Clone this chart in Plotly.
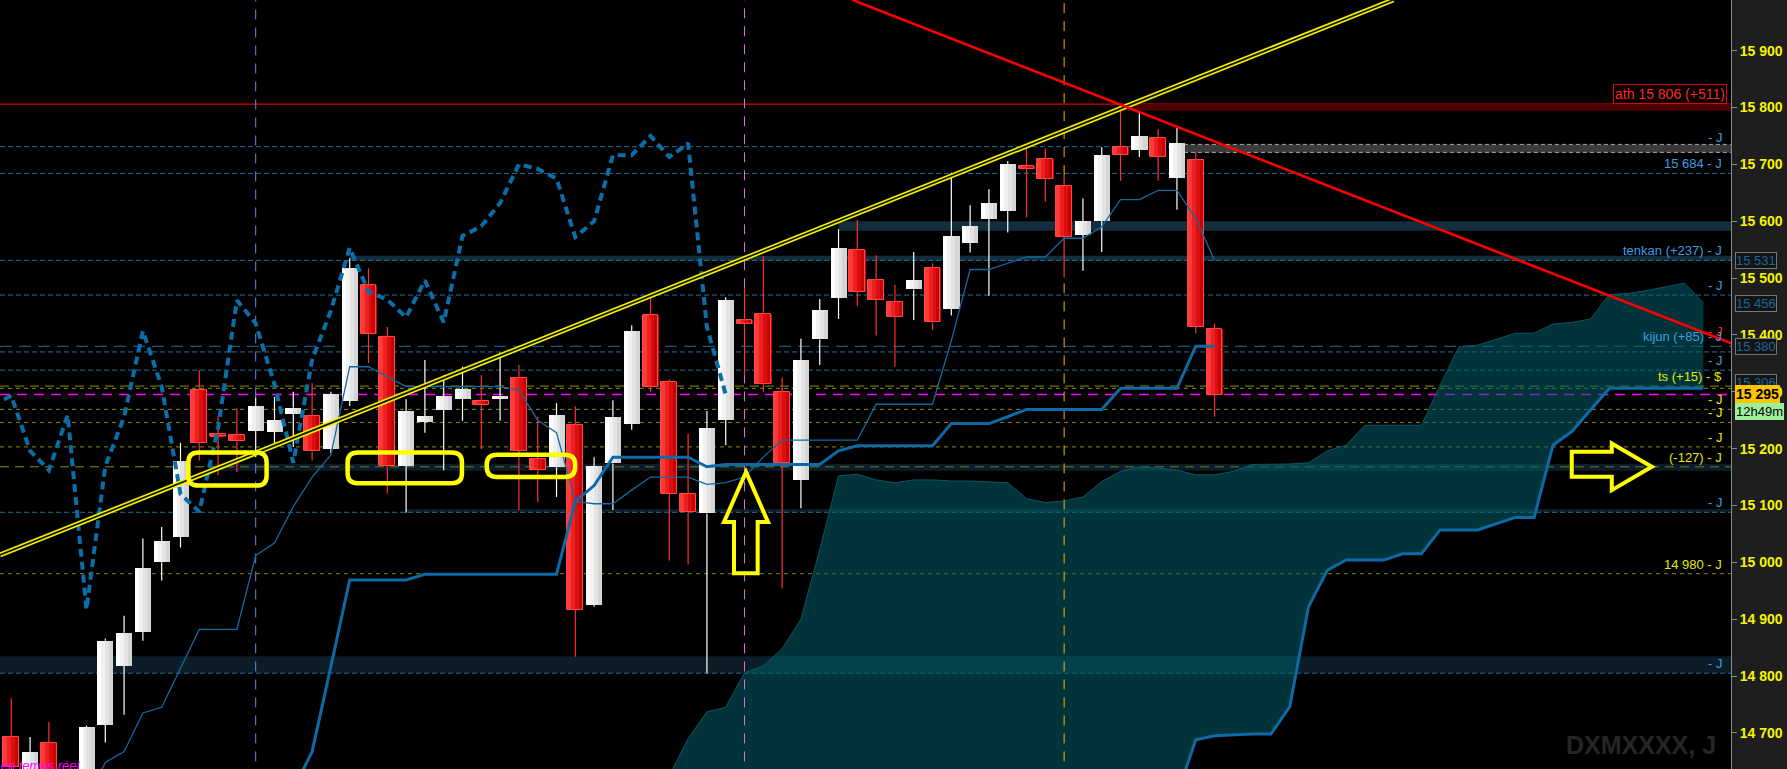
import plotly.graph_objects as go

# Daily candles, oldest first (session index 0 .. 64)
opens = [
    14693, 14630, 14683, 14620, 14590, 14714, 14818, 14878, 15000, 15045,
    15303, 15225, 15224, 15231, 15230, 15261, 15257, 15200, 15284, 15488,
    15396, 15169, 15247, 15268, 15288, 15284, 15288, 15324, 15182, 15167,
    15241, 14925, 15174, 15244, 15435, 15317, 15121, 15086, 15251, 15426,
    15436, 15299, 15145, 15392, 15465, 15550, 15496, 15457, 15480, 15517,
    15446, 15562, 15604, 15618, 15697, 15710, 15661, 15576, 15601, 15730,
    15726, 15747, 15676, 15707, 15411,
]
highs = [
    14761, 14693, 14719, 14630, 14713, 14866, 14906, 15042, 15062, 15210,
    15338, 15257, 15271, 15290, 15291, 15300, 15315, 15300, 15535, 15517,
    15414, 15287, 15356, 15329, 15344, 15329, 15369, 15347, 15256, 15280,
    15274, 15185, 15285, 15417, 15467, 15322, 15226, 15266, 15466, 15482,
    15539, 15325, 15393, 15463, 15586, 15602, 15540, 15488, 15546, 15526,
    15685, 15628, 15656, 15706, 15730, 15728, 15681, 15640, 15730, 15801,
    15793, 15762, 15764, 15722, 15420,
]
lows = [
    14620, 14600, 14600, 14560, 14570, 14683, 14732, 14862, 14968, 15026,
    15179, 15153, 15159, 15185, 15203, 15203, 15179, 15192, 15275, 15350,
    15121, 15087, 15228, 15162, 15249, 15199, 15249, 15092, 15105, 15115,
    14834, 14922, 15092, 15233, 15300, 15003, 14996, 14805, 15206, 15330,
    15300, 14954, 15095, 15347, 15428, 15451, 15399, 15344, 15426, 15409,
    15434, 15545, 15469, 15580, 15607, 15634, 15501, 15513, 15546, 15671,
    15713, 15671, 15620, 15403, 15256,
]
closes = [
    14640, 14666, 14625, 14585, 14710, 14862, 14876, 14990, 15037, 15178,
    15210, 15222, 15213, 15275, 15250, 15272, 15195, 15296, 15517, 15401,
    15169, 15266, 15257, 15292, 15305, 15276, 15293, 15196, 15162, 15259,
    14917, 15169, 15256, 15407, 15309, 15120, 15089, 15236, 15461, 15420,
    15313, 15175, 15356, 15443, 15553, 15476, 15462, 15431, 15496, 15422,
    15574, 15591, 15632, 15700, 15692, 15675, 15572, 15600, 15716, 15716,
    15750, 15713, 15737, 15414, 15295,
]

# Ichimoku: tenkan (from session 4), kijun (from session 15)
tenkan_x = list(range(4, 65))
tenkan = [
    14580, 14648, 14667, 14735, 14745, 14813, 14882, 14882, 14882, 15012,
    15034, 15098, 15150, 15189, 15344, 15344, 15327, 15309, 15309, 15309,
    15309, 15309, 15309, 15303, 15250, 15228, 15107, 15103, 15103, 15127,
    15150, 15150, 15150, 15137, 15140, 15150, 15185, 15215, 15215, 15215,
    15215, 15215, 15278, 15278, 15278, 15278, 15390, 15515, 15515, 15526,
    15537, 15537, 15570, 15570, 15590, 15638, 15638, 15654, 15654, 15605,
    15531,
]
kijun_x = list(range(15, 65))
kijun = [
    14600, 14667, 14817, 14969, 14969, 14969, 14969, 14979, 14979, 14979,
    14979, 14979, 14979, 14979, 14979, 15107, 15135, 15185, 15185, 15185,
    15185, 15185, 15168, 15172, 15172, 15172, 15172, 15172, 15172, 15196,
    15205, 15205, 15205, 15205, 15205, 15244, 15244, 15244, 15256, 15269,
    15269, 15269, 15269, 15269, 15306, 15306, 15306, 15306, 15380, 15380,
]
# Kumo (senkou spans), sessions 34 .. 90 (projected 26 ahead)
cloud_x = list(range(34, 91))
span_a = [
    14560, 14625, 14690, 14737, 14745, 14806, 14818, 14848, 14900, 15022,
    15152, 15155, 15145, 15140, 15145, 15145, 15143, 15143, 15142, 15140,
    15112, 15105, 15108, 15115, 15142, 15160, 15168, 15166, 15162, 15154,
    15154, 15160, 15172, 15172, 15173, 15175, 15196, 15206, 15241, 15241,
    15241, 15241, 15312, 15379, 15382, 15392, 15403, 15403, 15419, 15422,
    15428, 15471, 15473, 15478, 15484, 15491, 15456,
]
span_b = [
    14560, 14560, 14560, 14560, 14560, 14560, 14560, 14560, 14560, 14560,
    14560, 14560, 14560, 14560, 14560, 14560, 14560, 14560, 14560, 14560,
    14560, 14560, 14560, 14560, 14560, 14560, 14560, 14560, 14590, 14688,
    14695, 14697, 14698, 14698, 14746, 14922, 14986, 15004, 15004, 15004,
    15015, 15015, 15057, 15057, 15057, 15068, 15079, 15079, 15206, 15230,
    15268, 15306, 15306, 15306, 15306, 15306, 15306,
]
CHIKOU_LAG = 26

# Hand-drawn trendlines: (session index, price) anchor pairs
yellow_trend_x = [-0.6, 73.5]
yellow_trend_y = [15013, 15989]
red_trend_x = [44.75, 91.5]
red_trend_y = [15989, 15385]

# Marked sessions (vertical dashed lines)
marked_sessions = [13, 39, 56]
marked_colors = ['#5b8fe8', '#e36be3', '#ffb000']

# Horizontal levels
ath_level = 15806
last_price = 15295
blue_levels = [15731, 15684, 15531, 15470, 15370, 15338, 15088, 14805]
olive_levels = [15306, 15269, 15246, 15203, 14980]
olive_long_levels = [15310, 15168]
kijun_level = 15380

# Right-hand level tags: (price, text, colour key)
level_tags = [
    (15731, '- J', 'blue'),
    (15684, '15 684 - J', 'blue'),
    (15531, 'tenkan (+237) - J', 'blue'),
    (15470, '- J', 'blue'),
    (15380, 'kijun (+85) - J', 'blue'),
    (15338, '- J', 'blue'),
    (15310, 'ts (+15) - $', 'yellow'),
    (15269, '- J', 'yellow'),
    (15246, '- J', 'yellow'),
    (15203, '- J', 'yellow'),
    (15168, '(-127) - J', 'yellow'),
    (15088, '- J', 'blue'),
    (14980, '14 980 - J', 'yellow'),
    (14805, '- J', 'blue'),
]
# Price boxes on the axis
axis_boxes = [(15531, '15 531'), (15456, '15 456'), (15380, '15 380'), (15316, '15 306')]
tick_vals = [14700, 14800, 14900, 15000, 15100, 15200, 15300, 15400, 15500, 15600, 15700, 15800, 15900]

X_RANGE = [-0.6, 91.47]
Y_RANGE = [14636.5, 15989]
PLOT_W = 1731.0

LABEL_COL = {'blue': '#3a9fe6', 'yellow': '#e8e800'}
BLUE_DASH = '#1f6f9f'
OLIVE = '#8c8c00'
ICHI = '#0e6aa6'

fig = go.Figure()

# ---- Kumo ----
fig.add_trace(go.Scatter(x=cloud_x, y=span_b, mode='lines',
                         line=dict(width=0, color='rgba(0,0,0,0)'), hoverinfo='skip'))
fig.add_trace(go.Scatter(x=cloud_x, y=span_a, mode='lines', fill='tonexty',
                         fillcolor='rgba(0,95,105,0.55)',
                         line=dict(width=1, color='#0c5566'), hoverinfo='skip'))

# ---- vertical session markers (interrupted where the candle sits) ----
for s, col in zip(marked_sessions, marked_colors):
    fig.add_trace(go.Scatter(
        x=[s, s, None, s, s],
        y=[Y_RANGE[0] - 50, lows[s], None, highs[s], Y_RANGE[1] + 50],
        mode='lines', line=dict(color=col, width=1, dash='10px,8px'), hoverinfo='skip'))

# ---- candles ----
idx = list(range(len(opens)))
up = [i for i in idx if closes[i] >= opens[i]]
dn = [i for i in idx if closes[i] < opens[i]]


def body(ids):
    base = [min(opens[i], closes[i]) for i in ids]
    h = [max(abs(closes[i] - opens[i]), 3.5) for i in ids]
    return base, h


BODY_W = 0.84
N_STRIPS = 4
white_shades = ['#ffffff', '#f1f1f1', '#e3e3e3', '#d5d5d5']
red_shades = ['#ff3838', '#ec2020', '#da0e0e', '#c60404']
for ids, shades in ((up, white_shades), (dn, red_shades)):
    base, h = body(ids)
    for k in range(N_STRIPS):
        fig.add_trace(go.Bar(
            x=ids, y=h, base=base,
            width=BODY_W / N_STRIPS + 0.015,
            offset=-BODY_W / 2 + k * BODY_W / N_STRIPS,
            marker=dict(color=shades[k], line=dict(width=0)), hoverinfo='skip'))
base, h = body(dn)
fig.add_trace(go.Bar(x=dn, y=h, base=base, width=BODY_W, offset=-BODY_W / 2,
                     marker=dict(color='rgba(0,0,0,0)', line=dict(color='#ff4848', width=1)),
                     hoverinfo='skip'))


def wicks(ids):
    xs, ys = [], []
    for i in ids:
        top, bot = max(opens[i], closes[i]), min(opens[i], closes[i])
        xs += [i, i, None, i, i, None]
        ys += [highs[i], top, None, bot, lows[i], None]
    return xs, ys


for ids, col in ((up, '#ffffff'), (dn, '#ff3030')):
    wx, wy = wicks(ids)
    fig.add_trace(go.Scatter(x=wx, y=wy, mode='lines', line=dict(color=col, width=1.2),
                             hoverinfo='skip'))

# ---- Ichimoku lines ----
fig.add_trace(go.Scatter(x=tenkan_x, y=tenkan, mode='lines',
                         line=dict(color='#1468a0', width=1.3), hoverinfo='skip'))
fig.add_trace(go.Scatter(x=kijun_x, y=kijun, mode='lines',
                         line=dict(color=ICHI, width=3), hoverinfo='skip'))
fig.add_trace(go.Scatter(x=cloud_x, y=span_b, mode='lines',
                         line=dict(color=ICHI, width=3), hoverinfo='skip'))
chikou_x = [i - CHIKOU_LAG for i in range(CHIKOU_LAG - 1, len(closes))]
chikou_y = closes[CHIKOU_LAG - 1:]
fig.add_trace(go.Scatter(x=chikou_x, y=chikou_y, mode='lines',
                         line=dict(color='#0a6ea8', width=4, dash='8px,5px'), hoverinfo='skip'))

# ---- trendlines (double yellow, single red) ----
fig.add_trace(go.Scatter(x=yellow_trend_x, y=yellow_trend_y, mode='lines',
                         line=dict(color='#f2f200', width=5), hoverinfo='skip'))
fig.add_trace(go.Scatter(x=yellow_trend_x, y=yellow_trend_y, mode='lines',
                         line=dict(color='#141400', width=1.7), hoverinfo='skip'))
fig.add_trace(go.Scatter(x=red_trend_x, y=red_trend_y, mode='lines',
                         line=dict(color='#ff0000', width=2.6), hoverinfo='skip'))

# ---- shapes: zones and levels ----
shapes = []


def zone(x0, y0, y1, color):
    shapes.append(dict(type='rect', xref='x', yref='y', x0=x0, x1=120, y0=y0, y1=y1,
                       fillcolor=color, line=dict(width=0), layer='below'))


def hline(y, color, dash, width=1, x0=None):
    if x0 is None:
        shapes.append(dict(type='line', xref='paper', yref='y', x0=0, x1=1, y0=y, y1=y,
                           line=dict(color=color, width=width, dash=dash), layer='below'))
    else:
        shapes.append(dict(type='line', xref='x', yref='y', x0=x0, x1=120, y0=y, y1=y,
                           line=dict(color=color, width=width, dash=dash), layer='below'))


zone(59, 15794, ath_level, '#4d0000')
zone(62, 15721, 15735, '#3a3a3a')
zone(44, 15583, 15600, 'rgba(40,100,130,0.45)')
zone(18, 15531, 15539, 'rgba(40,100,130,0.45)')
zone(10.6, 15161, 15173, 'rgba(40,90,120,0.32)')
zone(21, 15088, 15094, 'rgba(40,90,120,0.32)')
zone(-5, 14805, 14835, 'rgba(40,90,120,0.32)')

hline(15735, '#a8a8a8', '4px,3px', x0=62)
hline(15721, '#a8a8a8', '4px,3px', x0=62)
for lv in blue_levels:
    hline(lv, BLUE_DASH, '5px,3px')
hline(kijun_level, BLUE_DASH, '12px,7px')
for lv in olive_levels:
    hline(lv, OLIVE, '4px,4px')
for lv in olive_long_levels:
    hline(lv, OLIVE, '9px,6px')
hline(last_price, '#ff00ff', '10px,7px', width=1.5)
hline(ath_level, '#dd0000', 'solid', width=1.2)


# ---- annotation marks: rounded boxes and arrows ----
def rounded_box(x0, x1, y0, y1, rx=0.55, ry=17):
    return (f"M {x0 + rx},{y0} L {x1 - rx},{y0} Q {x1},{y0} {x1},{y0 + ry} "
            f"L {x1},{y1 - ry} Q {x1},{y1} {x1 - rx},{y1} L {x0 + rx},{y1} "
            f"Q {x0},{y1} {x0},{y1 - ry} L {x0},{y0 + ry} Q {x0},{y0} {x0 + rx},{y0} Z")


YEL = '#ffff00'
for bx0, bx1, by0, by1 in ((9.42, 13.58, 15135, 15193),
                           (17.89, 23.97, 15139, 15193),
                           (25.29, 29.99, 15150, 15189)):
    shapes.append(dict(type='path', xref='x', yref='y', path=rounded_box(bx0, bx1, by0, by1),
                       line=dict(color=YEL, width=4.5), fillcolor='rgba(0,0,0,0)', layer='above'))

up_arrow = ("M 39.08,15159 L 40.25,15071 L 39.70,15071 L 39.70,14981 "
            "L 38.44,14981 L 38.44,15071 L 37.91,15071 Z")
right_arrow = ("M 83.0,15194.5 L 85.13,15194.5 L 85.13,15209 L 87.26,15168 "
               "L 85.13,15127 L 85.13,15150.5 L 83.0,15150.5 Z")
for p in (up_arrow, right_arrow):
    shapes.append(dict(type='path', xref='x', yref='y', path=p,
                       line=dict(color=YEL, width=4), fillcolor='rgba(0,0,0,0)', layer='above'))

# ---- text ----
annotations = []
FONT = 'Liberation Sans'


def px(fx):
    return fx / PLOT_W


annotations.append(dict(xref='paper', yref='y', x=px(1724), y=15406, xanchor='right',
                        yanchor='middle', text='- J', showarrow=False,
                        font=dict(family=FONT, size=13, color='#ff2020')))
for lv, txt, ck in level_tags:
    annotations.append(dict(xref='paper', yref='y', x=px(1724), y=lv, xanchor='right',
                            yanchor='bottom', text=txt, showarrow=False,
                            font=dict(family=FONT, size=13, color=LABEL_COL[ck])))

annotations.append(dict(xref='paper', yref='y', x=px(1727), y=ath_level, xanchor='right',
                        yanchor='bottom', showarrow=False,
                        text=f'ath 15 806 (+{ath_level - last_price})',
                        font=dict(family=FONT, size=14, color='#ff2424'),
                        bgcolor='#000000', bordercolor='#e00000', borderwidth=1, borderpad=1))

for lv, txt in axis_boxes:
    annotations.append(dict(xref='paper', yref='y', x=px(1735), y=lv, xanchor='left',
                            yanchor='middle', text=txt, showarrow=False,
                            font=dict(family=FONT, size=13, color='#17679c'),
                            bgcolor='#141414', bordercolor='#767676', borderwidth=1, borderpad=0))
annotations.append(dict(xref='paper', yref='y', x=px(1735), y=15296, xanchor='left',
                        yanchor='middle', text='<b>15 295</b>', showarrow=False,
                        font=dict(family=FONT, size=14, color='#000000'),
                        bgcolor='#ffc400', bordercolor='#ffc400', borderwidth=1, borderpad=0))
annotations.append(dict(xref='paper', yref='y', x=px(1735), y=15265, xanchor='left',
                        yanchor='middle', text='12h49m', showarrow=False,
                        font=dict(family=FONT, size=13, color='#000000'),
                        bgcolor='#9cf09c', bordercolor='#9cf09c', borderwidth=1, borderpad=0))

annotations.append(dict(xref='paper', yref='paper', x=px(1718), y=0, xanchor='right',
                        yanchor='bottom', yshift=8, text='<b>DXMXXXX, J</b>', showarrow=False,
                        font=dict(family='Liberation Sans Narrow, Liberation Sans', size=25,
                                  color='#262626')))
annotations.append(dict(xref='paper', yref='paper', x=px(83), y=0, xanchor='right',
                        yanchor='middle', yshift=4, text='<i>Données en temps réel</i>',
                        showarrow=False, font=dict(family=FONT, size=13, color='#ff00ff')))

fig.update_layout(
    width=1787, height=769, autosize=False,
    margin=dict(l=0, r=56, t=0, b=0, pad=0),
    paper_bgcolor='#1e1e1e', plot_bgcolor='#000000',
    showlegend=False, hovermode=False, barmode='overlay', bargap=0,
    font=dict(family=FONT),
    xaxis=dict(range=X_RANGE, visible=False, showgrid=False, zeroline=False, fixedrange=True),
    yaxis=dict(range=Y_RANGE, side='right', showgrid=False, zeroline=False,
               tickvals=tick_vals,
               ticktext=[f'<b>{v // 1000} {v % 1000:03d}</b>' for v in tick_vals],
               ticks='outside', ticklen=5, tickcolor='#8a8a8a',
               showline=True, linecolor='#8a8a8a', linewidth=1,
               tickfont=dict(family=FONT, size=14, color='#f6f600'),
               fixedrange=True),
    shapes=shapes,
    annotations=annotations,
)

fig.write_html("out.html", config={'displayModeBar': False},
               post_script="document.body.style.margin='0';document.body.style.overflow='hidden';")
